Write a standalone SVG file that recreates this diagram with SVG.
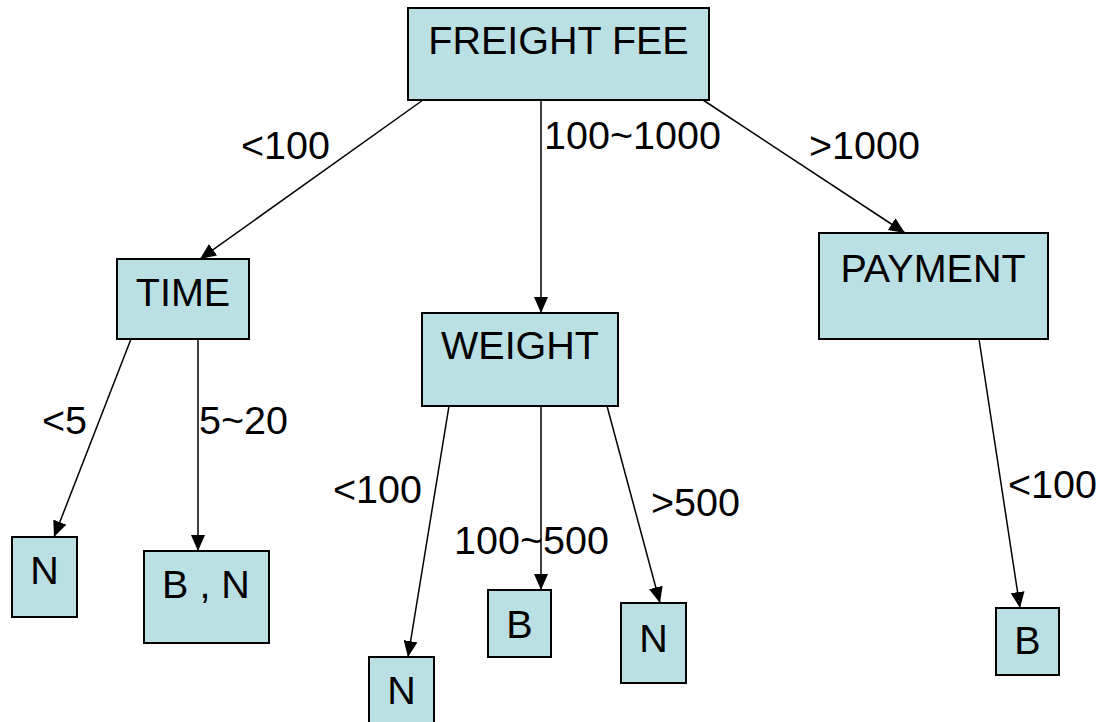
<svg xmlns="http://www.w3.org/2000/svg" width="1104" height="722" viewBox="0 0 1104 722">
<defs>
<style>
.box{fill:#bbe0e3;stroke:#000;stroke-width:2}
.t{font-family:"Liberation Sans",Arial,sans-serif;font-size:39.5px;fill:#000}
.c{text-anchor:middle}
.ln{stroke:#000;stroke-width:1.5;fill:none;marker-end:url(#ah)}
</style>
<marker id="ah" markerUnits="userSpaceOnUse" markerWidth="16" markerHeight="14" refX="16" refY="7" orient="auto">
<path d="M0,0 L16,7 L0,14 Z" fill="#000"/>
</marker>
</defs>
<rect width="1104" height="722" fill="#fff"/>
<g id="connectors">
<line class="ln" x1="423" y1="100" x2="200" y2="259"/>
<line class="ln" x1="541" y1="100" x2="541" y2="313"/>
<line class="ln" x1="703" y1="100" x2="905" y2="233"/>
<line class="ln" x1="131" y1="339" x2="54" y2="537"/>
<line class="ln" x1="198" y1="339" x2="198" y2="551"/>
<line class="ln" x1="449" y1="406" x2="408" y2="657"/>
<line class="ln" x1="541" y1="406" x2="541" y2="590"/>
<line class="ln" x1="607" y1="406" x2="660" y2="603"/>
<line class="ln" x1="979" y1="339" x2="1020" y2="608"/>
<text class="t" x="241" y="159">&lt;100</text>
<text class="t" x="544" y="149">100~1000</text>
<text class="t" x="809" y="159">&gt;1000</text>
<text class="t" x="42" y="434">&lt;5</text>
<text class="t" x="199" y="434">5~20</text>
<text class="t" x="333" y="503">&lt;100</text>
<text class="t" x="454" y="554">100~500</text>
<text class="t" x="651" y="516">&gt;500</text>
<text class="t" x="1008" y="498">&lt;100</text>
</g>
<g id="freight-fee"><rect class="box" x="408" y="8" width="301" height="92"/><text class="t c" x="558.5" y="54">FREIGHT FEE</text></g>
<g id="time"><rect class="box" x="117" y="259" width="132" height="80"/><text class="t c" x="183" y="306">TIME</text></g>
<g id="weight"><rect class="box" x="422" y="313" width="196" height="93"/><text class="t c" x="520" y="359">WEIGHT</text></g>
<g id="payment"><rect class="box" x="819" y="233" width="229" height="106"/><text class="t c" x="933" y="282">PAYMENT</text></g>
<g id="n1"><rect class="box" x="12" y="537" width="65" height="80"/><text class="t c" x="44.5" y="584">N</text></g>
<g id="bn"><rect class="box" x="144" y="551" width="125" height="92"/><text class="t c" x="206" y="598">B , N</text></g>
<g id="n2"><rect class="box" x="369" y="657" width="65" height="80"/><text class="t c" x="401.5" y="704">N</text></g>
<g id="b1"><rect class="box" x="488" y="590" width="63" height="67"/><text class="t c" x="519.5" y="638">B</text></g>
<g id="n3"><rect class="box" x="621" y="603" width="65" height="80"/><text class="t c" x="653.5" y="652">N</text></g>
<g id="b2"><rect class="box" x="996" y="608" width="63" height="67"/><text class="t c" x="1027.5" y="654">B</text></g>
</svg>
